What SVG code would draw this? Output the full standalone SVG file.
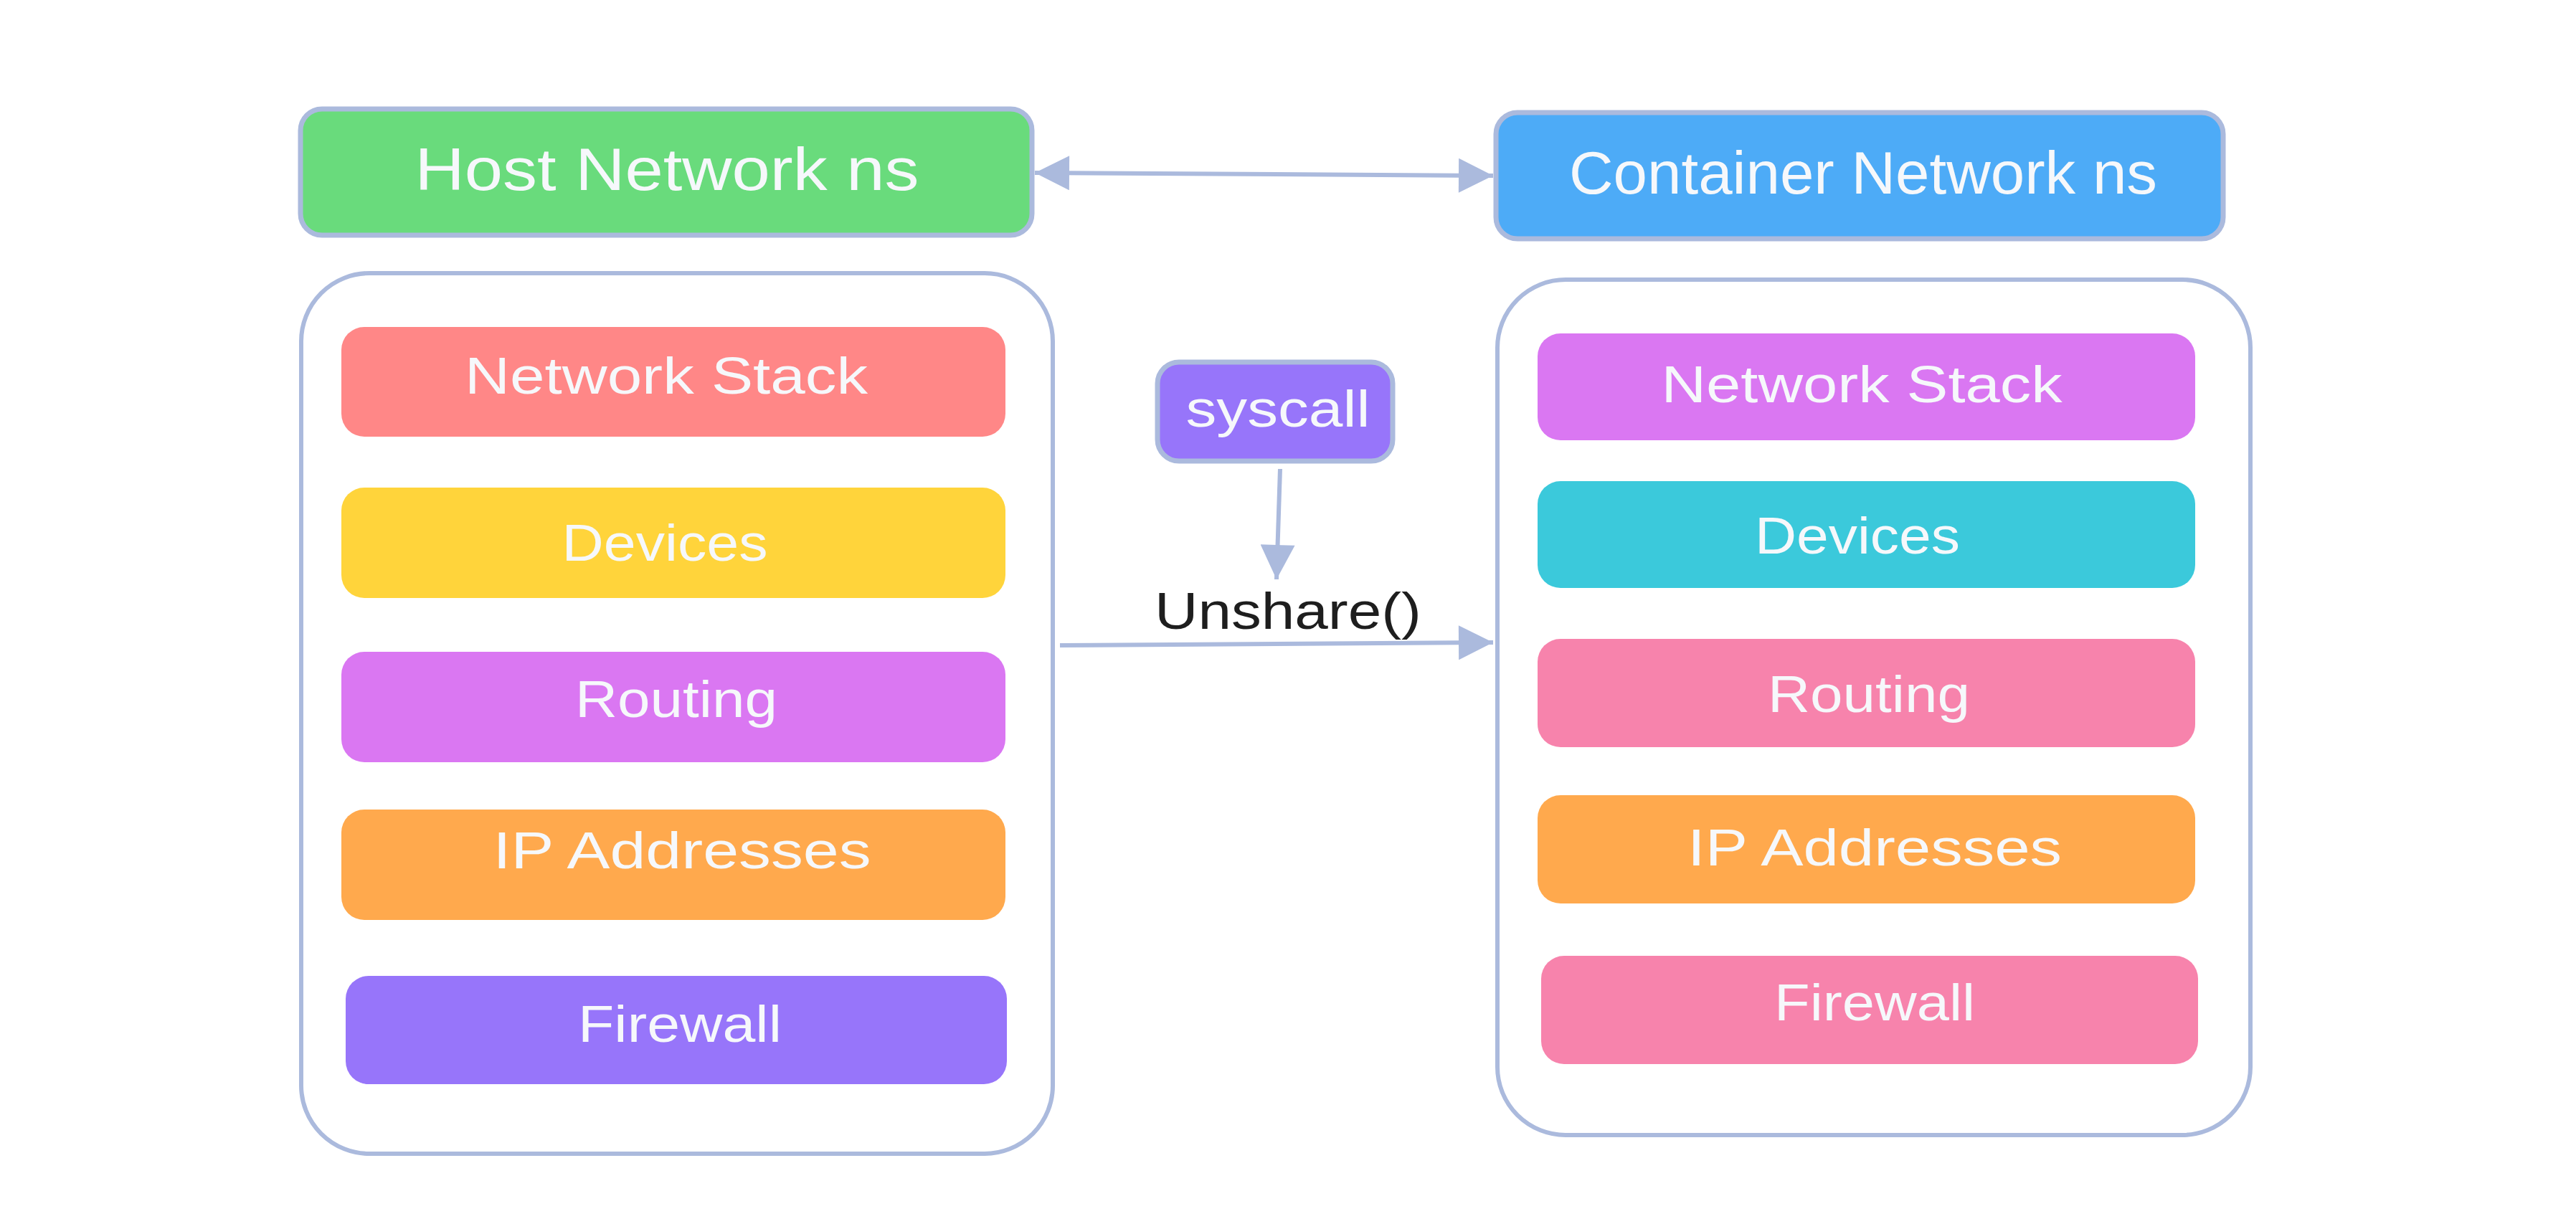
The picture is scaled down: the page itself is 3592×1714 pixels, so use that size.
<svg xmlns="http://www.w3.org/2000/svg" width="3592" height="1714" viewBox="0 0 3592 1714">
<style>
.bg{fill:#ffffff}
.frame{fill:#ffffff;stroke:#abbadd;stroke-width:6}
.title{stroke:#abbadd;stroke-width:7}
.item{stroke:none}
.lbl{font-family:"Liberation Sans","Noto Sans",sans-serif;fill:#f6f8fb;text-anchor:middle;dominant-baseline:central}
.dark{fill:#1e1e1e}
.conn{fill:none;stroke:#abbadd;stroke-width:6}
</style>
<defs>
<marker id="ah" viewBox="0 0 10 10" refX="10" refY="5" markerWidth="54" markerHeight="48" markerUnits="userSpaceOnUse" orient="auto-start-reverse">
<path d="M0,0 L10,5 L0,10 z" fill="#abbadd"/>
</marker>
</defs>
<rect class="bg" x="0" y="0" width="3592" height="1714"/>

<g id="host-ns">
<rect class="title" x="419" y="152" width="1020" height="176" rx="30" fill="#69db7c"/>
<text class="lbl" x="930" y="236" font-size="84" textLength="703" lengthAdjust="spacingAndGlyphs">Host Network ns</text>
</g>

<g id="container-ns">
<rect class="title" x="2086" y="157" width="1014" height="176" rx="30" fill="#4dabf7"/>
<text class="lbl" x="2598" y="241" font-size="84" textLength="820" lengthAdjust="spacingAndGlyphs">Container Network ns</text>
</g>

<g id="host-frame">
<rect class="frame" x="420" y="381" width="1048" height="1228" rx="95"/>
</g>
<g id="container-frame">
<rect class="frame" x="2088" y="390" width="1050" height="1193" rx="95"/>
</g>

<g id="host-network-stack">
<rect class="item" x="476" y="456" width="926" height="153" rx="32" fill="#ff8787"/>
<text class="lbl" x="929" y="524" font-size="72" textLength="562" lengthAdjust="spacingAndGlyphs">Network Stack</text>
</g>
<g id="host-devices">
<rect class="item" x="476" y="680" width="926" height="154" rx="32" fill="#ffd43b"/>
<text class="lbl" x="927" y="757" font-size="72" textLength="287" lengthAdjust="spacingAndGlyphs">Devices</text>
</g>
<g id="host-routing">
<rect class="item" x="476" y="909" width="926" height="154" rx="32" fill="#da77f2"/>
<text class="lbl" x="943" y="975" font-size="72" textLength="282" lengthAdjust="spacingAndGlyphs">Routing</text>
</g>
<g id="host-ip">
<rect class="item" x="476" y="1129" width="926" height="154" rx="32" fill="#ffa94d"/>
<text class="lbl" x="951" y="1186" font-size="72" textLength="527" lengthAdjust="spacingAndGlyphs">IP Addresses</text>
</g>
<g id="host-firewall">
<rect class="item" x="482" y="1361" width="922" height="151" rx="32" fill="#9775fa"/>
<text class="lbl" x="948" y="1428" font-size="72" textLength="284" lengthAdjust="spacingAndGlyphs">Firewall</text>
</g>

<g id="cont-network-stack">
<rect class="item" x="2144" y="465" width="917" height="149" rx="32" fill="#da77f2"/>
<text class="lbl" x="2596" y="536" font-size="72" textLength="559" lengthAdjust="spacingAndGlyphs">Network Stack</text>
</g>
<g id="cont-devices">
<rect class="item" x="2144" y="671" width="917" height="149" rx="32" fill="#3bc9db"/>
<text class="lbl" x="2590" y="747" font-size="72" textLength="286" lengthAdjust="spacingAndGlyphs">Devices</text>
</g>
<g id="cont-routing">
<rect class="item" x="2144" y="891" width="917" height="151" rx="32" fill="#f783ac"/>
<text class="lbl" x="2606" y="968" font-size="72" textLength="282" lengthAdjust="spacingAndGlyphs">Routing</text>
</g>
<g id="cont-ip">
<rect class="item" x="2144" y="1109" width="917" height="151" rx="32" fill="#ffa94d"/>
<text class="lbl" x="2614" y="1182" font-size="72" textLength="522" lengthAdjust="spacingAndGlyphs">IP Addresses</text>
</g>
<g id="cont-firewall">
<rect class="item" x="2149" y="1333" width="916" height="151" rx="32" fill="#f783ac"/>
<text class="lbl" x="2614" y="1398" font-size="72" textLength="280" lengthAdjust="spacingAndGlyphs">Firewall</text>
</g>

<g id="syscall">
<rect class="title" x="1614" y="505" width="328" height="138" rx="30" fill="#9775fa"/>
<text class="lbl" x="1782" y="570" font-size="72" textLength="257" lengthAdjust="spacingAndGlyphs">syscall</text>
</g>

<g id="connectors">
<line class="conn" x1="1443" y1="241" x2="2082" y2="245" marker-start="url(#ah)" marker-end="url(#ah)"/>
<line class="conn" x1="1785" y1="654" x2="1780" y2="808" marker-end="url(#ah)"/>
<line class="conn" x1="1478" y1="900" x2="2082" y2="896" marker-end="url(#ah)"/>
<text class="lbl dark" x="1796" y="852" font-size="72" textLength="372" lengthAdjust="spacingAndGlyphs">Unshare()</text>
</g>
</svg>
